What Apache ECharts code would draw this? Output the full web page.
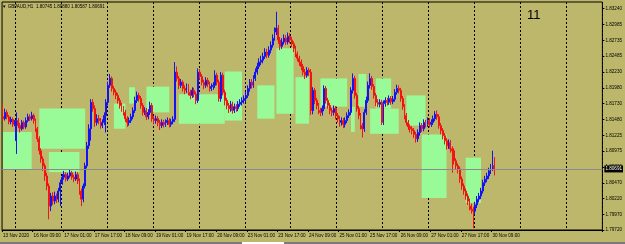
<!DOCTYPE html>
<html>
<head>
<meta charset="utf-8">
<script src="https://cdn.jsdelivr.net/npm/echarts@6/dist/echarts.min.js"></script>
<style>
  html, body { margin: 0; padding: 0; background: #bdb76b; }
  #main { width: 625px; height: 244px; }
</style>
</head>
<body>
<div id="main"></div>
<script>
// GBPAUD H1, 13 Nov 2020 17:00 .. 30 Nov 2020 10:00, one entry per hourly bar
var opens = [
  1.8152,1.8149,1.8159,1.8152,1.8144,1.8148,1.8140,
  1.8114,1.8146,1.8138,1.8133,1.8143,1.8136,1.8146,1.8152,1.8149,1.8154,
  1.8146,1.8133,1.8117,1.8098,1.8085,1.8074,1.8058,1.8042,1.8010,1.8026,1.8018,1.8026,1.8021,1.8034,
  1.8047,1.8056,1.8060,1.8053,1.8058,1.8063,1.8056,1.8053,1.8060,1.8050,1.8034,1.8021,1.8042,1.8074,1.8106,
  1.8133,1.8175,1.8165,1.8143,1.8149,1.8146,1.8138,1.8143,1.8154,1.8175,1.8202,
  1.8213,1.8197,1.8191,1.8186,1.8178,1.8170,1.8165,1.8159,1.8149,1.8143,1.8146,
  1.8152,1.8162,1.8178,1.8186,1.8181,1.8170,1.8159,1.8162,1.8152,1.8159,1.8170,
  1.8149,1.8146,1.8149,1.8143,1.8138,1.8143,1.8140,1.8143,1.8146,1.8140,1.8144,
  1.8148,1.8223,1.8213,1.8202,1.8207,1.8197,1.8194,1.8200,1.8191,1.8186,1.8194,1.8188,
  1.8178,1.8223,1.8216,1.8207,1.8202,1.8210,1.8204,1.8197,1.8200,1.8202,1.8218,1.8207,
  1.8181,1.8218,1.8191,1.8178,1.8170,1.8165,1.8172,1.8162,1.8168,1.8165,1.8172,1.8175,1.8178,
  1.8181,1.8186,1.8197,1.8207,1.8202,1.8213,1.8223,1.8232,1.8239,1.8242,1.8248,1.8255,1.8250,1.8258,
  1.8266,1.8277,1.8287,1.8293,1.8274,1.8264,1.8271,1.8277,1.8271,1.8280,1.8274,
  1.8268,1.8261,1.8252,1.8245,1.8239,1.8232,1.8223,1.8218,1.8226,1.8223,1.8162,
  1.8194,1.8178,1.8170,1.8162,1.8159,1.8165,1.8197,1.8178,1.8170,1.8162,1.8159,
  1.8165,1.8154,1.8149,1.8143,1.8146,1.8140,1.8146,1.8154,1.8159,1.8194,1.8213,1.8186,1.8165,
  1.8154,1.8138,1.8133,1.8159,1.8178,1.8202,1.8213,1.8200,1.8186,1.8175,1.8172,1.8175,1.8143,
  1.8173,1.8178,1.8175,1.8181,1.8176,1.8180,1.8191,1.8197,1.8194,1.8181,1.8168,
  1.8154,1.8143,1.8136,1.8133,1.8130,1.8124,1.8117,1.8127,1.8138,1.8133,1.8143,1.8140,
  1.8146,1.8140,1.8143,1.8149,1.8156,1.8152,1.8138,1.8130,1.8122,1.8114,1.8106,1.8111,1.8101,
  1.8098,1.8082,1.8074,1.8069,1.8053,1.8042,1.8034,1.8026,1.8018,1.8010,1.8005,
  1.8002,1.8012,1.8021,1.8026,1.8034,1.8047,1.8053,1.8058,1.8066,1.8072,1.80745
];
var highs = [
  1.8172,1.8165,1.8163,1.8155,1.8152,1.8151,1.8147,
  1.8159,1.8150,1.8142,1.8147,1.8146,1.8151,1.8157,1.8156,1.8160,1.8157,
  1.8149,1.8136,1.8121,1.8102,1.8089,1.8078,1.8063,1.8046,1.8031,1.8032,1.8033,1.8030,1.8039,1.8052,
  1.8061,1.8066,1.8064,1.8063,1.8068,1.8066,1.8060,1.8065,1.8064,1.8054,1.8038,1.8046,1.8079,1.8112,1.8140,
  1.8180,1.8180,1.8170,1.8156,1.8155,1.8150,1.8148,1.8159,1.8180,1.8208,1.8220,
  1.8216,1.8201,1.8195,1.8190,1.8182,1.8174,1.8169,1.8163,1.8153,1.8151,1.8157,
  1.8167,1.8184,1.8192,1.8190,1.8185,1.8174,1.8167,1.8166,1.8164,1.8176,1.8174,
  1.8153,1.8154,1.8153,1.8147,1.8148,1.8147,1.8148,1.8151,1.8150,1.8149,1.8153,
  1.8239,1.8232,1.8217,1.8212,1.8210,1.8202,1.8205,1.8204,1.8195,1.8199,1.8198,1.8192,
  1.8229,1.8228,1.8220,1.8211,1.8215,1.8214,1.8208,1.8205,1.8207,1.8226,1.8222,1.8211,
  1.8223,1.8222,1.8195,1.8182,1.8174,1.8177,1.8176,1.8173,1.8172,1.8177,1.8180,1.8183,1.8186,
  1.8192,1.8202,1.8212,1.8212,1.8218,1.8229,1.8238,1.8245,1.8249,1.8254,1.8261,1.8260,1.8264,1.8272,
  1.8283,1.8294,1.8319,1.8298,1.8279,1.8277,1.8283,1.8282,1.8286,1.8285,1.8279,
  1.8272,1.8265,1.8256,1.8249,1.8243,1.8236,1.8228,1.8231,1.8230,1.8228,1.8199,
  1.8198,1.8182,1.8174,1.8166,1.8170,1.8202,1.8201,1.8182,1.8174,1.8166,1.8170,
  1.8169,1.8158,1.8153,1.8151,1.8150,1.8151,1.8159,1.8164,1.8199,1.8221,1.8217,1.8190,1.8169,
  1.8158,1.8142,1.8164,1.8184,1.8208,1.8221,1.8217,1.8204,1.8190,1.8180,1.8180,1.8179,1.8178,
  1.8183,1.8182,1.8186,1.8185,1.8185,1.8196,1.8203,1.8202,1.8198,1.8185,1.8172,
  1.8158,1.8147,1.8140,1.8137,1.8134,1.8128,1.8132,1.8143,1.8142,1.8148,1.8147,1.8151,
  1.8150,1.8148,1.8154,1.8161,1.8162,1.8156,1.8142,1.8134,1.8126,1.8118,1.8116,1.8115,1.8105,
  1.8102,1.8086,1.8078,1.8073,1.8057,1.8046,1.8038,1.8030,1.8022,1.8014,1.8009,
  1.8017,1.8026,1.8031,1.8039,1.8052,1.8058,1.8063,1.8071,1.8077,1.8098,1.80880
];
var lows = [
  1.8145,1.8146,1.8148,1.8140,1.8140,1.8136,1.8137,
  1.8093,1.8134,1.8127,1.8130,1.8132,1.8133,1.8143,1.8145,1.8146,1.8141,
  1.8128,1.8112,1.8092,1.8079,1.8066,1.8050,1.8035,1.7989,1.8002,1.8012,1.8013,1.8015,1.8016,1.8010,
  1.8044,1.8052,1.8049,1.8050,1.8055,1.8052,1.8048,1.8050,1.8045,1.8028,1.8010,1.8016,1.8038,1.8070,1.8101,
  1.8114,1.8160,1.8136,1.8138,1.8140,1.8133,1.8134,1.8139,1.8127,1.8170,1.8198,
  1.8192,1.8186,1.8180,1.8173,1.8165,1.8160,1.8154,1.8144,1.8136,1.8138,1.8142,
  1.8148,1.8158,1.8174,1.8176,1.8165,1.8154,1.8155,1.8147,1.8148,1.8155,1.8144,
  1.8140,1.8141,1.8137,1.8131,1.8134,1.8135,1.8136,1.8139,1.8135,1.8136,1.8140,
  1.8144,1.8208,1.8196,1.8198,1.8192,1.8188,1.8190,1.8186,1.8180,1.8182,1.8183,1.8172,
  1.8174,1.8211,1.8202,1.8196,1.8198,1.8199,1.8192,1.8193,1.8195,1.8198,1.8202,1.8176,
  1.8176,1.8186,1.8170,1.8164,1.8158,1.8160,1.8157,1.8158,1.8160,1.8161,1.8168,1.8170,1.8173,
  1.8175,1.8182,1.8192,1.8197,1.8198,1.8209,1.8219,1.8228,1.8234,1.8237,1.8244,1.8245,1.8246,1.8253,
  1.8262,1.8273,1.8282,1.8268,1.8258,1.8260,1.8267,1.8266,1.8267,1.8269,1.8263,
  1.8255,1.8247,1.8240,1.8233,1.8226,1.8218,1.8212,1.8214,1.8217,1.8155,1.8156,
  1.8172,1.8164,1.8156,1.8153,1.8154,1.8161,1.8173,1.8165,1.8156,1.8153,1.8154,
  1.8148,1.8143,1.8136,1.8138,1.8134,1.8135,1.8142,1.8150,1.8155,1.8189,1.8181,1.8160,1.8148,
  1.8132,1.8119,1.8128,1.8155,1.8174,1.8197,1.8195,1.8181,1.8169,1.8167,1.8167,1.8139,1.8139,
  1.8168,1.8170,1.8171,1.8171,1.8172,1.8176,1.8187,1.8189,1.8176,1.8163,1.8148,
  1.8138,1.8131,1.8127,1.8124,1.8118,1.8111,1.8112,1.8122,1.8128,1.8129,1.8135,1.8136,
  1.8135,1.8136,1.8139,1.8145,1.8147,1.8133,1.8124,1.8116,1.8108,1.8100,1.8101,1.8095,1.8063,
  1.8076,1.8068,1.8062,1.8047,1.8036,1.8028,1.8020,1.8012,1.8003,1.7998,1.7975,
  1.7996,1.8007,1.8016,1.8021,1.8030,1.8042,1.8048,1.8053,1.8061,1.8066,1.80587
];
var closes = [
  1.8149,1.8159,1.8152,1.8144,1.8148,1.8140,1.8143,
  1.8146,1.8138,1.8133,1.8143,1.8136,1.8146,1.8152,1.8149,1.8154,1.8146,
  1.8133,1.8117,1.8098,1.8085,1.8074,1.8058,1.8042,1.8010,1.8026,1.8018,1.8026,1.8021,1.8034,1.8047,
  1.8056,1.8060,1.8053,1.8058,1.8063,1.8056,1.8053,1.8060,1.8050,1.8034,1.8021,1.8042,1.8074,1.8106,1.8133,
  1.8175,1.8165,1.8143,1.8149,1.8146,1.8138,1.8143,1.8154,1.8175,1.8202,1.8213,
  1.8197,1.8191,1.8186,1.8178,1.8170,1.8165,1.8159,1.8149,1.8143,1.8146,1.8152,
  1.8162,1.8178,1.8186,1.8181,1.8170,1.8159,1.8162,1.8152,1.8159,1.8170,1.8149,
  1.8146,1.8149,1.8143,1.8138,1.8143,1.8140,1.8143,1.8146,1.8140,1.8144,1.8148,
  1.8223,1.8213,1.8202,1.8207,1.8197,1.8194,1.8200,1.8191,1.8186,1.8194,1.8188,1.8178,
  1.8223,1.8216,1.8207,1.8202,1.8210,1.8204,1.8197,1.8200,1.8202,1.8218,1.8207,1.8181,
  1.8218,1.8191,1.8178,1.8170,1.8165,1.8172,1.8162,1.8168,1.8165,1.8172,1.8175,1.8178,1.8181,
  1.8186,1.8197,1.8207,1.8202,1.8213,1.8223,1.8232,1.8239,1.8242,1.8248,1.8255,1.8250,1.8258,1.8266,
  1.8277,1.8287,1.8293,1.8274,1.8264,1.8271,1.8277,1.8271,1.8280,1.8274,1.8268,
  1.8261,1.8252,1.8245,1.8239,1.8232,1.8223,1.8218,1.8226,1.8223,1.8162,1.8194,
  1.8178,1.8170,1.8162,1.8159,1.8165,1.8197,1.8178,1.8170,1.8162,1.8159,1.8165,
  1.8154,1.8149,1.8143,1.8146,1.8140,1.8146,1.8154,1.8159,1.8194,1.8213,1.8186,1.8165,1.8154,
  1.8138,1.8133,1.8159,1.8178,1.8202,1.8213,1.8200,1.8186,1.8175,1.8172,1.8175,1.8143,1.8173,
  1.8178,1.8175,1.8181,1.8176,1.8180,1.8191,1.8197,1.8194,1.8181,1.8168,1.8154,
  1.8143,1.8136,1.8133,1.8130,1.8124,1.8117,1.8127,1.8138,1.8133,1.8143,1.8140,1.8146,
  1.8140,1.8143,1.8149,1.8156,1.8152,1.8138,1.8130,1.8122,1.8114,1.8106,1.8111,1.8101,1.8098,
  1.8082,1.8074,1.8069,1.8053,1.8042,1.8034,1.8026,1.8018,1.8010,1.8005,1.8002,
  1.8012,1.8021,1.8026,1.8034,1.8047,1.8053,1.8058,1.8066,1.8072,1.80745,1.80691
];

// x axis labels, one every 16 bars
var xTickLabels = ['13 Nov 2020','16 Nov 09:00','17 Nov 01:00','17 Nov 17:00','18 Nov 09:00',
  '19 Nov 01:00','19 Nov 17:00','20 Nov 09:00','23 Nov 01:00','23 Nov 17:00','24 Nov 09:00',
  '25 Nov 01:00','25 Nov 17:00','26 Nov 09:00','27 Nov 01:00','27 Nov 17:00','30 Nov 09:00'];
// price scale labels, bottom to top
var yTickLabels = ['1.79720','1.79970','1.80220','1.80470','1.80720','1.80975','1.81225','1.81480',
  '1.81730','1.81980','1.82230','1.82485','1.82735','1.82985','1.83240'];

// green rectangles: first bar, last bar, top price, bottom price
var zoneFrom   = [0, 19, 24, 58, 66, 75, 92, 116, 133, 143, 153, 166, 182, 186, 192, 195, 211, 219, 242];
var zoneTo     = [15, 43, 40, 64, 69, 87, 116, 125, 142, 152, 160, 180, 184, 190, 207, 203, 221, 232, 250];
var zoneTop    = [1.8128,1.8165,1.8096,1.8173,1.8199,1.8200,1.8188,1.8224,1.8202,1.8261,1.8215,1.8213,1.8168,1.8220,1.8165,1.8213,1.8186,1.8124,1.8087];
var zoneBottom = [1.8068,1.8101,1.8064,1.8133,1.8173,1.8159,1.8141,1.8146,1.8149,1.8157,1.8141,1.8168,1.8128,1.8168,1.8125,1.8165,1.8138,1.8023,1.8015];

var slotCount = 314;   // bars + empty space on the right

var categories = [];
for (var i = 0; i < slotCount; i++) categories.push(String(i));

var candleData = [];
for (var i = 0; i < closes.length; i++) {
    candleData.push([opens[i], closes[i], lows[i], highs[i]]);
}

var yTickValues = yTickLabels.map(function (s) { return parseFloat(s); });

var zones = [];
for (var k = 0; k < zoneFrom.length; k++) {
    zones.push([
        { xAxis: String(zoneFrom[k]), yAxis: zoneTop[k] },
        { xAxis: String(zoneTo[k]), yAxis: zoneBottom[k] }
    ]);
}

var last = closes.length - 1;
var headerText = '\u25BC GBPAUD,H1  ' + opens[last].toFixed(5) + ' ' + highs[last].toFixed(5) + ' ' +
    lows[last].toFixed(5) + ' ' + closes[last].toFixed(5);

var chart = echarts.init(document.getElementById('main'));
var smallFont = { fontFamily: 'Liberation Sans', fontSize: 4.6, color: '#000' };

var option = {
    backgroundColor: '#bdb76b',
    animation: false,
    grid: {
        left: 1, right: 22, top: 2, bottom: 14,
        show: true, borderColor: '#000', borderWidth: 1, backgroundColor: 'transparent'
    },
    xAxis: {
        type: 'category',
        data: categories,
        boundaryGap: true,
        axisLine: { lineStyle: { color: '#000' } },
        axisTick: {
            show: true, length: 2, lineStyle: { color: '#000' },
            interval: function (idx) { return idx % 16 === 0 && idx / 16 < xTickLabels.length; }
        },
        axisLabel: Object.assign({
            margin: 3,
            align: 'left',
            interval: function (idx) { return idx % 16 === 0 && idx / 16 < xTickLabels.length; },
            formatter: function (v, idx) { return xTickLabels[idx / 16] || ''; }
        }, smallFont),
        splitLine: {
            show: true,
            interval: function (idx) { return idx >= 7 && (idx - 7) % 24 === 0; },
            lineStyle: { color: '#000', type: [2, 2], width: 1 }
        }
    },
    yAxis: {
        type: 'value',
        position: 'right',
        min: 1.79720,
        max: 1.83345,
        axisLine: { show: false },
        axisTick: { show: true, length: 2, lineStyle: { color: '#000' }, customValues: yTickValues },
        splitLine: { show: false },
        axisLabel: Object.assign({
            margin: 3,
            customValues: yTickValues,
            formatter: function (v) {
                var best = 0;
                for (var n = 1; n < yTickValues.length; n++) {
                    if (Math.abs(yTickValues[n] - v) < Math.abs(yTickValues[best] - v)) best = n;
                }
                return yTickLabels[best];
            }
        }, smallFont)
    },
    graphic: [
        { type: 'text', left: 2, top: 4, style: { text: headerText, font: '4.5px "Liberation Sans"', fill: '#000' } },
        { type: 'text', left: 527, top: 9, style: { text: '11', font: '13px "Liberation Sans"', fill: '#000' } },
        // window frame strip along the bottom edge
        { type: 'rect', left: 0, top: 242, shape: { width: 625, height: 2 }, style: { fill: '#7a7a7a' } },
        { type: 'rect', left: 242, top: 242, shape: { width: 42, height: 2 }, style: { fill: '#ffffff' } }
    ],
    series: [
        {
            // background layer: zones and current price line
            type: 'line',
            data: [],
            z: 1,
            silent: true,
            markArea: {
                silent: true,
                itemStyle: { color: '#98fb98', opacity: 1 },
                data: zones
            },
            markLine: {
                silent: true,
                precision: 5,
                symbol: ['none', 'none'],
                lineStyle: { color: '#8a8a8a', type: 'solid', width: 1 },
                label: {
                    position: 'end', distance: 2,
                    formatter: closes[last].toFixed(5),
                    backgroundColor: '#000', color: '#fff',
                    fontFamily: 'Liberation Sans', fontSize: 4.6, padding: [1, 1]
                },
                data: [{ yAxis: closes[last] }]
            }
        },
        {
            type: 'candlestick',
            z: 3,
            barWidth: 1.4,
            data: candleData,
            itemStyle: {
                color: '#1414f0', color0: '#f01414',
                borderColor: '#1414f0', borderColor0: '#f01414',
                borderWidth: 1
            }
        }
    ]
};

chart.setOption(option);
</script>
</body>
</html>
